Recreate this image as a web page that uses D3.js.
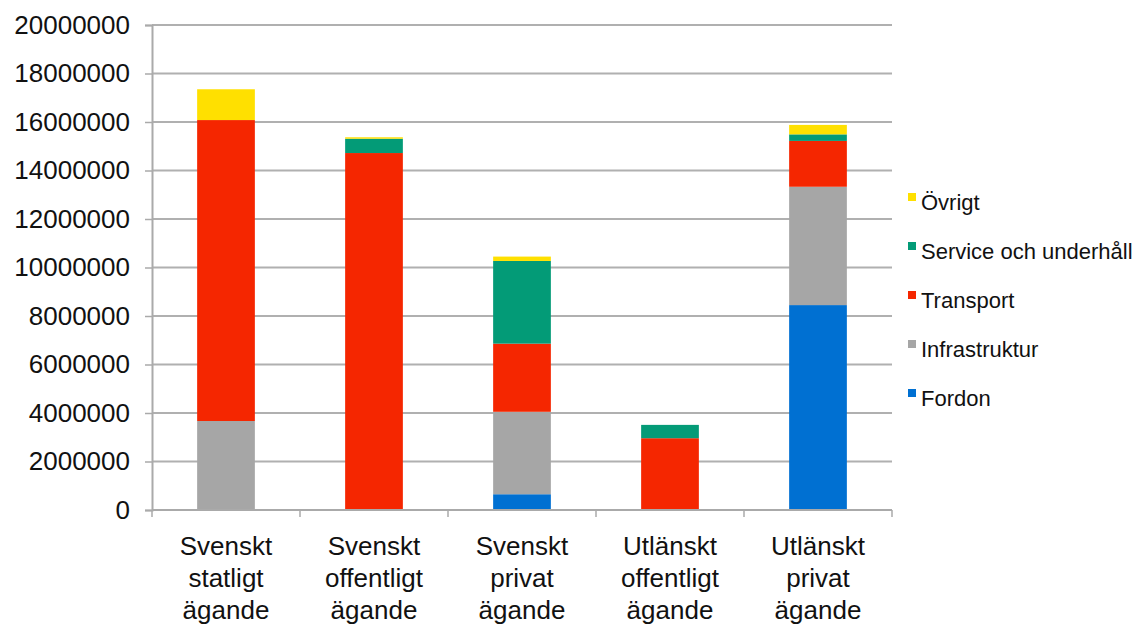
<!DOCTYPE html>
<html>
<head>
<meta charset="utf-8">
<script src="https://cdn.jsdelivr.net/npm/d3@7"></script>
<style>
  body { margin: 0; background: #fff; }
  text { font-family: "Liberation Sans", Arial, sans-serif; fill: #111; }
</style>
</head>
<body>
<div id="chart"></div>
<script>
// categories (x axis), each label split over three lines
var categories = ["Svenskt statligt ägande", "Svenskt offentligt ägande", "Svenskt privat ägande",
                  "Utlänskt offentligt ägande", "Utlänskt privat ägande"];
var categoryLines = [["Svenskt", "statligt", "ägande"], ["Svenskt", "offentligt", "ägande"],
                     ["Svenskt", "privat", "ägande"], ["Utlänskt", "offentligt", "ägande"],
                     ["Utlänskt", "privat", "ägande"]];

// series, bottom to top
var seriesNames = ["Fordon", "Infrastruktur", "Transport", "Service och underhåll", "Övrigt"];
var fordon        = [0,        0,        650000,  0,       8450000];
var infrastruktur = [3670000,  0,        3400000, 0,       4880000];
var transport     = [12410000, 14720000, 2810000, 2960000, 1890000];
var service       = [0,        590000,   3410000, 550000,  270000];
var ovrigt        = [1270000,  60000,    180000,  0,       390000];
var seriesColors  = ["#0070d2", "#a6a6a6", "#f52600", "#039b77", "#ffe000"];

var yTicks = [0, 2000000, 4000000, 6000000, 8000000, 10000000, 12000000, 14000000, 16000000, 18000000, 20000000];

var margin = {top: 25, right: 247, bottom: 114, left: 152},
    width = 892 - margin.left,
    height = 510 - margin.top;

var svg = d3.select("#chart")
  .append("svg")
    .attr("width", 1137)
    .attr("height", 624)
  .append("g")
    .attr("transform", "translate(" + margin.left + "," + margin.top + ")");

// build table for stacking
var rows = categories.map(function(c, i) {
  return {cat: c, "Fordon": fordon[i], "Infrastruktur": infrastruktur[i], "Transport": transport[i],
          "Service och underhåll": service[i], "Övrigt": ovrigt[i]};
});
var stack = d3.stack().keys(seriesNames)(rows);

var x = d3.scaleBand()
  .domain(categories)
  .range([0, width])
  .paddingInner(0.61)
  .paddingOuter(0.305);

var xTick = d3.scaleBand().domain(categories).range([0, width]);

var y = d3.scaleLinear()
  .domain([0, 20000000])
  .range([height, 0]);

// gridlines
svg.append("g")
  .selectAll("line")
  .data(yTicks.slice(1))
  .enter().append("line")
    .attr("x1", 0)
    .attr("x2", width)
    .attr("y1", function(d) { return y(d); })
    .attr("y2", function(d) { return y(d); })
    .attr("stroke", "#b0b0b0")
    .attr("stroke-width", 2);

// bars
svg.append("g")
  .selectAll("g")
  .data(stack)
  .enter().append("g")
    .attr("fill", function(d, i) { return seriesColors[i]; })
  .selectAll("rect")
  .data(function(d) { return d; })
  .enter().append("rect")
    .attr("x", function(d) { return x(d.data.cat); })
    .attr("y", function(d) { return y(d[1]); })
    .attr("width", x.bandwidth())
    .attr("height", function(d) { return y(d[0]) - y(d[1]); });

// y axis
var yAxis = svg.append("g")
  .call(d3.axisLeft(y).tickValues(yTicks).tickFormat(d3.format("d")).tickSize(7).tickPadding(15));
yAxis.select(".domain").attr("stroke", "#aaa").attr("stroke-width", 2);
yAxis.selectAll(".tick line").attr("stroke", "#aaa").attr("stroke-width", 1.5);
yAxis.selectAll(".tick text")
  .style("font-size", "26px")
  .style("font-family", "'Liberation Sans', Arial, sans-serif")
  .attr("fill", "#111");

// x axis
var xAxisG = svg.append("g")
  .attr("transform", "translate(0," + height + ")");
xAxisG.append("line")
  .attr("x1", 0).attr("x2", width)
  .attr("stroke", "#aaa").attr("stroke-width", 2);
xAxisG.selectAll(".xt")
  .data(categories.concat(["end"]))
  .enter().append("line")
    .attr("class", "xt")
    .attr("x1", function(d, i) { return i * xTick.bandwidth(); })
    .attr("x2", function(d, i) { return i * xTick.bandwidth(); })
    .attr("y1", 0).attr("y2", 7)
    .attr("stroke", "#aaa").attr("stroke-width", 1.5);

// x labels
xAxisG.selectAll(".xl")
  .data(categoryLines)
  .enter().append("text")
    .attr("class", "xl")
    .attr("text-anchor", "middle")
    .attr("x", function(d, i) { return xTick(categories[i]) + xTick.bandwidth() / 2; })
    .attr("y", 45)
    .style("font-size", "26px")
    .selectAll("tspan")
    .data(function(d) { return d; })
    .enter().append("tspan")
      .attr("x", function() { return d3.select(this.parentNode).attr("x"); })
      .attr("dy", function(d, i) { return i === 0 ? 0 : 32; })
      .text(function(d) { return d; });

// legend, top item is last series
var legend = svg.append("g")
  .attr("transform", "translate(" + (908 - margin.left) + "," + (203 - margin.top) + ")");
var legendItems = legend.selectAll("g")
  .data(seriesNames.slice().reverse())
  .enter().append("g")
    .attr("transform", function(d, i) { return "translate(0," + (i * 49) + ")"; });
legendItems.append("rect")
  .attr("x", 0)
  .attr("y", -10)
  .attr("width", 8)
  .attr("height", 8)
  .attr("fill", function(d) { return seriesColors[seriesNames.indexOf(d)]; });
legendItems.append("text")
  .attr("x", 13)
  .attr("y", 7)
  .style("font-size", "22px")
  .text(function(d) { return d; });
</script>
</body>
</html>
